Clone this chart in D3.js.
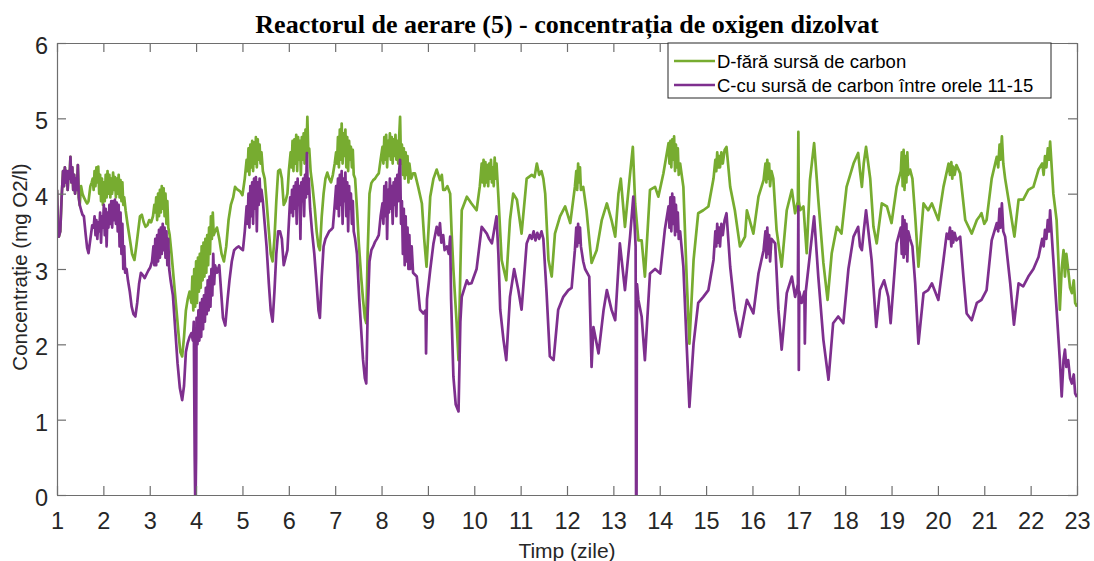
<!DOCTYPE html>
<html>
<head>
<meta charset="utf-8">
<script src="https://cdn.jsdelivr.net/npm/d3@7"></script>
<style>
  body { margin: 0; background: #fff; }
  svg { display: block; }
</style>
</head>
<body>
<svg id="chart" width="1094" height="561"></svg>
<script>
// Dissolved-oxygen readings, [day, mg O2/l]
const titleText = "Reactorul de aerare (5) - concentrația de oxigen dizolvat";
const xLabel = "Timp (zile)";
const yLabel = "Concentrație (mg O2/l)";
const legendLabels = ["D-fără sursă de carbon", "C-cu sursă de carbon între orele 11-15"];
const xTickValues = [1,2,3,4,5,6,7,8,9,10,11,12,13,14,15,16,17,18,19,20,21,22,23];
const yTickValues = [0,1,2,3,4,5,6];

// shared start (both reactors identical until ~1.5 days)
const startCommon = [[1.00,4.05],[1.02,3.60],[1.04,3.43],[1.07,3.50],[1.10,3.95],[1.13,4.30],[1.15,4.10],[1.17,4.35],[1.19,4.15],[1.21,4.30],[1.23,4.05],[1.25,4.30],[1.27,4.20],[1.29,4.49],[1.31,4.15],[1.33,4.35],[1.35,4.05],[1.37,4.25],[1.39,4.00],[1.41,4.20],[1.43,4.05],[1.45,4.38],[1.47,3.95],[1.49,3.85]];

// D - without carbon source
const seriesD = startCommon.concat([
[1.52,4.10],[1.55,4.00],[1.58,3.95],[1.62,3.90],[1.65,3.87],[1.68,3.90],[1.72,4.10],[1.75,4.15],
[1.77,4.20],[1.79,4.05],[1.81,4.30],[1.83,4.10],[1.85,4.35],[1.87,4.15],[1.89,4.36],[1.91,4.00],[1.93,4.25],[1.95,3.90],[1.97,4.20],[1.99,3.85],[2.01,4.15],[2.03,3.90],[2.05,4.25],[2.07,3.95],[2.09,4.30],[2.11,4.00],[2.13,4.25],[2.15,3.95],[2.17,4.20],[2.19,4.00],[2.21,4.28],[2.23,4.05],[2.25,4.22],[2.27,3.95],[2.29,4.20],[2.31,4.00],[2.33,4.25],[2.35,3.95],[2.37,4.18],[2.39,3.90],[2.41,4.15],[2.43,3.85],[2.45,3.95],
[2.48,3.78],[2.52,3.60],[2.57,3.40],[2.62,3.20],[2.67,3.12],[2.71,3.30],[2.75,3.50],[2.79,3.70],[2.83,3.72],[2.87,3.62],[2.91,3.56],[2.95,3.58],[2.99,3.65],[3.03,3.62],[3.07,3.70],[3.10,3.85],
[3.12,3.75],[3.14,3.95],[3.16,3.65],[3.18,4.00],[3.20,3.70],[3.22,4.05],[3.24,3.75],[3.26,4.10],[3.28,3.80],[3.30,4.07],[3.32,3.70],[3.34,4.00],[3.36,3.60],[3.38,3.90],[3.40,3.55],[3.43,3.45],
[3.47,3.20],[3.52,2.85],[3.57,2.50],[3.62,2.15],[3.66,1.90],[3.70,1.84],[3.74,2.10],[3.78,2.45],[3.82,2.60],[3.86,2.70],[3.90,2.55],
[3.92,2.90],[3.94,2.45],[3.96,3.00],[3.98,2.50],[4.00,3.10],[4.02,2.55],[4.04,3.15],[4.06,2.70],[4.08,3.20],[4.10,2.75],[4.12,3.30],[4.14,2.85],[4.16,3.35],[4.18,2.90],[4.20,3.40],[4.22,2.95],[4.24,3.45],[4.26,3.05],[4.28,3.55],[4.30,3.20],[4.32,3.70],[4.34,3.40],[4.36,3.75],[4.38,3.45],
[4.41,3.50],[4.45,3.55],[4.50,3.40],[4.55,3.20],[4.60,3.10],[4.65,3.30],[4.70,3.65],[4.75,3.85],[4.80,3.95],[4.84,4.09],[4.88,4.06],[4.95,4.03],[5.00,3.98],[5.05,4.20],[5.09,4.45],
[5.11,4.30],[5.13,4.60],[5.15,4.25],[5.17,4.65],[5.19,4.35],[5.21,4.70],[5.23,4.30],[5.25,4.68],[5.27,4.40],[5.29,4.75],[5.31,4.35],[5.33,4.72],[5.35,4.45],[5.37,4.65],[5.39,4.40],[5.41,4.55],[5.44,4.30],
[5.48,4.20],[5.52,3.90],[5.57,3.50],[5.61,3.20],[5.65,3.10],[5.69,3.40],[5.73,3.90],[5.77,4.30],[5.81,4.32],[5.85,4.20],[5.89,3.85],[5.93,3.90],[5.97,4.00],[6.00,4.30],[6.04,4.55],
[6.06,4.35],[6.08,4.70],[6.10,4.30],[6.12,4.72],[6.14,4.40],[6.16,4.78],[6.18,4.30],[6.20,4.75],[6.22,4.45],[6.24,4.70],[6.26,4.25],[6.28,4.75],[6.30,4.45],[6.32,4.80],[6.34,4.40],[6.36,4.85],[6.38,4.55],[6.40,5.02],[6.42,4.55],[6.44,4.60],
[6.47,4.30],[6.51,4.10],[6.56,3.80],[6.60,3.50],[6.64,3.30],[6.67,3.25],[6.71,3.70],[6.75,4.00],[6.79,4.20],[6.83,4.28],[6.87,4.20],[6.91,4.15],[6.95,4.25],[6.99,4.40],[7.02,4.55],
[7.04,4.40],[7.06,4.75],[7.08,4.35],[7.10,4.85],[7.12,4.45],[7.14,4.93],[7.16,4.40],[7.18,4.80],[7.20,4.50],[7.22,4.85],[7.24,4.35],[7.26,4.75],[7.28,4.30],[7.30,4.70],[7.32,4.45],[7.34,4.62],[7.36,4.35],[7.38,4.58],[7.40,4.25],
[7.43,4.20],[7.47,3.80],[7.51,3.34],[7.56,2.90],[7.60,2.60],[7.64,2.35],[7.67,2.28],[7.70,3.20],[7.74,4.00],[7.78,4.14],[7.82,4.18],[7.86,4.20],[7.90,4.24],[7.94,4.27],[7.98,4.45],[8.02,4.62],
[8.04,4.40],[8.06,4.75],[8.08,4.45],[8.10,4.78],[8.12,4.35],[8.14,4.70],[8.16,4.50],[8.18,4.80],[8.20,4.45],[8.22,4.75],[8.24,4.40],[8.26,4.72],[8.28,4.50],[8.30,4.78],[8.32,4.45],[8.34,4.70],[8.36,4.40],[8.38,4.75],[8.40,5.02],[8.42,4.40],[8.44,4.65],
[8.46,4.25],[8.48,4.60],[8.50,4.20],[8.52,4.55],[8.54,4.25],[8.56,4.50],[8.58,4.15],[8.60,4.40],[8.64,4.20],[8.68,4.27],[8.72,4.27],[8.79,4.09],[8.87,3.87],[8.92,3.40],[8.97,3.03],[9.02,3.60],[9.05,3.96],[9.12,4.20],[9.19,4.32],[9.26,4.18],[9.30,4.25],[9.33,4.05],[9.37,4.05],[9.42,4.10],[9.48,4.00],[9.51,3.50],[9.55,2.99],[9.62,2.28],[9.66,1.79],[9.70,3.00],[9.73,3.78],[9.84,3.96],[9.94,3.87],[10.05,3.78],[10.12,4.10],[10.16,4.40],
[10.18,4.15],[10.20,4.45],[10.22,4.10],[10.24,4.42],[10.26,4.15],[10.28,4.38],[10.30,4.10],[10.32,4.40],[10.34,4.20],[10.36,4.45],[10.38,4.15],[10.40,4.35],[10.42,4.10],[10.44,4.48],[10.46,4.20],[10.48,4.40],
[10.52,3.96],[10.59,3.12],[10.69,2.85],[10.77,3.65],[10.84,4.00],[10.92,3.92],[11.02,3.47],[11.13,4.20],[11.24,4.25],[11.30,4.22],[11.35,4.40],[11.40,4.25],[11.45,4.30],[11.49,4.20],[11.53,4.00],[11.60,3.12],[11.67,2.90],[11.74,3.47],[11.85,3.70],[11.96,3.83],[12.07,3.61],
[12.17,4.09],[12.20,4.30],[12.22,4.05],[12.24,4.40],[12.26,4.15],[12.28,4.35],[12.30,4.05],[12.35,4.09],[12.42,3.78],[12.53,3.08],[12.64,3.25],[12.75,3.65],[12.86,3.87],[12.96,3.65],[13.04,3.43],[13.11,4.00],[13.16,4.20],[13.25,3.56],[13.35,4.20],[13.42,4.62],[13.47,3.87],[13.54,3.38],[13.61,3.38],[13.68,2.90],[13.79,4.05],[13.90,4.09],[13.97,3.96],[14.08,4.27],[14.19,4.67],
[14.21,4.40],[14.23,4.70],[14.25,4.35],[14.27,4.72],[14.29,4.45],[14.31,4.76],[14.33,4.30],[14.35,4.65],[14.37,4.35],[14.39,4.60],[14.41,4.25],[14.44,4.40],
[14.51,4.09],[14.58,2.90],[14.64,2.01],[14.73,3.12],[14.83,3.74],[14.94,3.78],[15.05,3.83],[15.16,4.20],[15.20,4.45],[15.22,4.30],[15.24,4.55],[15.26,4.35],[15.28,4.50],[15.30,4.35],[15.33,4.55],[15.36,4.40],[15.40,4.58],[15.44,4.62],[15.52,4.09],[15.62,3.78],[15.73,3.30],[15.84,3.43],
[15.88,3.78],[16.02,3.47],[16.13,3.96],[16.24,4.18],[16.28,4.40],[16.30,4.15],[16.32,4.45],[16.34,4.20],[16.36,4.40],[16.38,4.10],[16.41,4.30],[16.45,4.20],[16.52,3.52],[16.63,3.03],[16.74,3.78],[16.85,4.05],[16.92,3.74],[16.98,3.90],[16.99,4.82],[17.00,3.90],[17.03,3.78],[17.10,3.83],[17.17,3.21],[17.24,4.18],[17.33,4.67],[17.42,3.92],[17.53,3.08],[17.62,2.59],[17.71,3.21],[17.82,3.56],[17.92,3.47],[18.03,4.09],[18.18,4.40],[18.28,4.54],[18.32,4.30],[18.36,4.09],[18.40,4.40],[18.45,4.62],[18.54,4.20],[18.61,3.56],[18.68,3.34],[18.79,3.87],[18.90,3.83],[19.00,3.61],[19.11,4.09],
[19.20,4.30],[19.22,4.55],[19.24,4.10],[19.26,4.58],[19.28,4.05],[19.30,4.50],[19.32,4.15],[19.34,4.55],[19.36,4.25],[19.40,4.32],[19.45,4.20],[19.51,3.70],[19.58,3.03],
[19.69,3.87],[19.79,3.78],[19.87,3.87],[20.01,3.65],[20.12,4.09],[20.23,4.40],[20.26,4.25],[20.29,4.42],[20.31,4.20],[20.33,4.36],[20.36,4.25],[20.40,4.38],[20.48,4.27],[20.59,3.65],[20.73,3.47],[20.84,3.65],[20.90,3.70],[20.94,3.74],[21.00,3.60],[21.05,3.65],[21.16,4.20],[21.27,4.49],[21.30,4.35],[21.33,4.65],[21.35,4.45],[21.38,4.76],[21.41,4.40],[21.45,4.20],[21.56,3.78],[21.65,3.43],[21.74,3.92],[21.84,3.92],[21.95,4.05],[22.06,4.09],[22.17,4.32],[22.25,4.40],[22.28,4.25],[22.31,4.50],[22.34,4.35],[22.37,4.60],[22.40,4.45],[22.42,4.69],[22.49,4.00],[22.56,3.65],[22.60,3.10],[22.63,2.46],[22.67,3.00],[22.71,3.25],[22.74,2.90],[22.77,3.20],[22.81,2.99],[22.85,2.75],[22.89,2.68],[22.93,2.85],[22.96,2.55],[23.00,2.50]
]);

// C - with carbon source between hours 11-15
const seriesC = startCommon.concat([
[1.52,3.78],[1.55,3.72],[1.58,3.70],[1.62,3.45],[1.65,3.28],[1.68,3.21],[1.72,3.40],[1.76,3.58],[1.79,3.55],
[1.81,3.70],[1.83,3.45],[1.85,3.65],[1.87,3.40],[1.89,3.62],[1.91,3.50],[1.93,3.75],[1.95,3.35],[1.97,3.70],[1.99,3.55],[2.01,3.85],[2.03,3.45],[2.05,3.80],[2.07,3.30],[2.09,3.75],[2.11,3.55],[2.13,3.85],[2.15,3.60],[2.17,3.90],[2.19,3.55],[2.21,3.90],[2.23,3.65],[2.25,3.92],[2.27,3.60],[2.29,3.88],[2.31,3.50],[2.33,3.85],[2.35,3.30],[2.37,3.75],[2.39,3.20],[2.41,3.60],[2.43,3.00],[2.45,3.30],
[2.47,2.95],[2.50,3.00],[2.53,2.85],[2.57,2.70],[2.61,2.50],[2.65,2.40],[2.69,2.37],[2.73,2.55],[2.77,2.80],[2.81,2.95],[2.85,2.92],[2.89,2.88],[2.93,2.93],[2.97,2.98],[3.01,3.02],[3.05,3.10],[3.08,3.30],
[3.10,3.05],[3.12,3.40],[3.14,3.05],[3.16,3.45],[3.18,3.10],[3.20,3.52],[3.22,3.15],[3.24,3.55],[3.26,3.20],[3.28,3.60],[3.30,3.25],[3.32,3.55],[3.34,3.15],[3.36,3.50],[3.38,3.05],[3.40,3.40],[3.42,3.00],
[3.45,2.85],[3.50,2.65],[3.55,2.20],[3.60,1.75],[3.65,1.42],[3.70,1.26],[3.74,1.45],[3.78,1.90],[3.82,2.02],[3.86,2.10],[3.90,2.15],[3.93,2.05],[3.95,2.30],[3.97,0.50],[3.98,0.00],[3.99,0.00],[4.00,0.50],[4.01,2.35],
[4.03,2.00],[4.05,2.45],[4.07,2.05],[4.09,2.55],[4.11,2.10],[4.13,2.60],[4.15,2.20],[4.17,2.65],[4.19,2.30],[4.21,2.75],[4.23,2.40],[4.25,2.85],[4.27,2.45],[4.29,2.90],[4.31,2.50],[4.33,3.00],[4.35,2.65],[4.37,3.20],[4.39,2.80],[4.41,3.05],
[4.45,2.95],[4.50,3.05],[4.54,2.70],[4.58,2.35],[4.63,2.25],[4.68,2.60],[4.72,2.85],[4.77,3.10],[4.82,3.25],[4.87,3.28],[4.92,3.30],[4.97,3.27],[5.01,3.25],[5.05,3.50],[5.09,3.83],
[5.11,3.60],[5.13,4.00],[5.15,3.55],[5.17,4.10],[5.19,3.70],[5.21,4.15],[5.23,3.60],[5.25,4.20],[5.27,3.80],[5.29,4.22],[5.31,3.50],[5.33,4.15],[5.35,3.85],[5.37,4.20],[5.39,3.90],[5.41,4.05],[5.44,3.90],
[5.48,3.60],[5.52,3.30],[5.57,2.80],[5.61,2.45],[5.65,2.30],[5.69,2.70],[5.73,3.20],[5.77,3.50],[5.81,3.50],[5.85,3.40],[5.89,3.05],[5.93,3.15],[5.97,3.25],[6.00,3.60],[6.03,3.95],
[6.05,3.75],[6.07,4.05],[6.09,3.70],[6.11,4.10],[6.13,3.80],[6.15,4.15],[6.17,3.60],[6.19,4.20],[6.21,3.85],[6.23,4.10],[6.25,3.40],[6.27,4.15],[6.29,3.90],[6.31,4.20],[6.33,3.70],[6.35,4.25],[6.37,3.95],[6.39,4.54],[6.41,4.00],[6.43,4.20],
[6.46,3.80],[6.50,3.50],[6.55,3.20],[6.60,2.80],[6.64,2.45],[6.67,2.35],[6.71,2.90],[6.75,3.30],[6.79,3.40],[6.83,3.45],[6.87,3.50],[6.91,3.52],[6.95,3.55],[6.99,3.85],[7.02,4.10],
[7.04,3.80],[7.06,4.20],[7.08,3.70],[7.10,4.25],[7.12,3.85],[7.14,4.30],[7.16,3.60],[7.18,4.20],[7.20,3.90],[7.22,4.28],[7.24,3.70],[7.26,4.15],[7.28,3.50],[7.30,4.10],[7.32,3.80],[7.34,4.00],[7.36,3.60],[7.38,3.90],[7.40,3.50],
[7.43,3.40],[7.47,3.20],[7.52,2.60],[7.56,2.20],[7.60,1.80],[7.64,1.55],[7.67,1.48],[7.70,2.40],[7.74,3.10],[7.78,3.25],[7.82,3.30],[7.86,3.36],[7.90,3.40],[7.94,3.45],[7.98,3.70],[8.02,3.87],
[8.04,3.60],[8.06,4.10],[8.08,3.70],[8.10,4.15],[8.12,3.40],[8.14,4.05],[8.16,3.75],[8.18,4.20],[8.20,3.80],[8.22,4.10],[8.24,3.60],[8.26,4.15],[8.28,3.85],[8.30,4.20],[8.32,3.70],[8.34,4.25],[8.36,3.90],[8.38,4.30],[8.40,4.45],[8.42,3.60],[8.44,3.90],
[8.46,3.20],[8.48,3.80],[8.50,3.05],[8.52,3.70],[8.54,3.10],[8.56,3.55],[8.58,3.00],[8.60,3.45],[8.62,3.00],[8.65,3.30],[8.68,2.95],
[8.76,2.90],[8.83,2.46],[8.90,2.41],[8.95,2.45],[8.96,1.88],[8.98,2.60],[9.05,2.99],[9.12,3.34],[9.19,3.56],[9.23,3.45],[9.26,3.61],[9.29,3.35],[9.33,3.45],[9.36,3.25],[9.41,3.30],[9.45,3.20],[9.48,3.43],[9.50,2.60],[9.55,1.57],[9.60,1.20],[9.66,1.11],[9.70,2.30],[9.73,2.63],[9.84,2.85],[9.88,2.80],[9.94,2.81],[10.05,3.00],[10.16,3.56],[10.27,3.47],[10.32,3.40],[10.38,3.34],[10.48,3.70],[10.52,3.20],[10.56,2.46],[10.63,2.06],[10.69,1.79],[10.77,2.63],[10.86,3.00],[10.95,2.72],[11.02,2.46],[11.13,3.34],[11.20,3.45],[11.24,3.40],[11.28,3.50],[11.32,3.38],[11.36,3.48],[11.40,3.40],[11.45,3.50],[11.49,3.40],[11.56,2.68],[11.63,1.84],[11.71,1.79],[11.81,2.46],[11.92,2.63],[12.03,2.72],[12.10,2.75],
[12.17,3.25],[12.20,3.55],[12.22,3.30],[12.24,3.60],[12.26,3.35],[12.28,3.55],[12.30,3.30],[12.35,3.10],[12.39,3.00],[12.48,2.90],[12.53,1.70],[12.57,2.23],[12.68,1.88],[12.79,2.46],[12.86,2.72],[12.96,2.46],[13.04,2.32],[13.14,3.34],[13.25,2.72],[13.36,3.43],[13.43,3.96],[13.48,3.30],[13.49,0.00],[13.50,0.00],[13.51,2.80],[13.54,2.59],[13.61,2.37],[13.68,1.79],[13.79,2.94],[13.90,3.00],[14.01,2.94],[14.11,3.52],[14.19,3.83],
[14.21,3.55],[14.23,3.95],[14.25,3.50],[14.27,4.00],[14.29,3.60],[14.31,3.95],[14.33,3.45],[14.35,3.85],[14.37,3.50],[14.39,3.75],[14.41,3.40],[14.44,3.50],
[14.51,3.03],[14.58,2.01],[14.64,1.17],[14.73,2.01],[14.83,2.55],[14.94,2.63],[15.05,2.72],[15.16,3.12],[15.20,3.50],[15.22,3.30],[15.24,3.60],[15.26,3.35],[15.28,3.55],[15.30,3.30],[15.33,3.60],[15.36,3.45],[15.40,3.65],[15.44,3.74],[15.52,3.03],[15.62,2.46],[15.73,2.10],[15.84,2.46],
[15.88,2.59],[16.02,2.41],[16.13,2.94],[16.24,3.25],[16.28,3.50],[16.30,3.15],[16.32,3.55],[16.34,3.20],[16.36,3.45],[16.38,3.10],[16.41,3.40],[16.49,3.34],[16.56,2.46],[16.63,1.93],[16.74,2.68],[16.85,2.90],[16.92,2.63],[16.98,2.80],[16.99,3.83],[17.00,1.66],[17.01,2.70],[17.06,2.55],[17.12,2.70],[17.13,2.01],[17.15,2.70],[17.21,3.03],[17.33,3.70],[17.42,2.90],[17.53,2.06],[17.64,1.53],[17.74,2.28],[17.85,2.37],[17.96,2.28],[18.07,3.00],[18.18,3.43],[18.28,3.56],[18.32,3.30],[18.36,3.25],[18.40,3.50],[18.45,3.78],[18.57,3.12],[18.67,2.23],[18.75,2.72],[18.84,2.85],[18.93,2.63],[18.98,2.28],[19.11,3.34],
[19.20,3.55],[19.22,3.20],[19.24,3.70],[19.26,3.15],[19.28,3.65],[19.30,3.20],[19.32,3.60],[19.34,3.10],[19.36,3.50],[19.40,3.40],[19.45,3.30],[19.51,2.81],[19.58,2.01],
[19.69,2.68],[19.79,2.72],[19.87,2.81],[20.01,2.59],[20.12,3.12],[20.19,3.47],[20.23,3.40],[20.26,3.55],[20.29,3.30],[20.31,3.50],[20.33,3.35],[20.36,3.48],[20.40,3.38],[20.48,3.43],[20.55,2.90],[20.62,2.41],[20.73,2.32],[20.84,2.55],[20.94,2.59],[21.05,2.72],[21.16,3.38],[21.27,3.61],[21.30,3.50],[21.33,3.80],[21.35,3.55],[21.38,3.87],[21.41,3.50],[21.45,3.43],[21.56,2.81],[21.64,2.26],[21.74,2.81],[21.84,2.77],[21.95,2.90],[22.06,3.00],[22.17,3.16],[22.25,3.40],[22.28,3.30],[22.31,3.52],[22.34,3.40],[22.37,3.65],[22.40,3.50],[22.42,3.78],[22.49,3.12],[22.56,2.46],[22.63,1.79],[22.67,1.31],[22.71,1.80],[22.74,1.93],[22.77,1.70],[22.81,1.79],[22.85,1.55],[22.89,1.48],[22.93,1.60],[22.96,1.35],[23.00,1.30]
]);

const colorD = "#77ac30";
const colorC = "#7e2f8e";

const svg = d3.select("#chart");
const W = 1094, H = 561;
const margin = { left: 57, right: 17, top: 43, bottom: 66 };
const plotW = W - margin.left - margin.right;
const plotH = H - margin.top - margin.bottom;

const x = d3.scaleLinear().domain([1, 23]).range([margin.left, margin.left + plotW]);
const y = d3.scaleLinear().domain([0, 6]).range([margin.top + plotH, margin.top]);

const axisColor = "#6e6e6e";
const labelColor = "#262626";
const fontSans = "Arial, 'Liberation Sans', Helvetica, sans-serif";

svg.append("defs").append("clipPath").attr("id", "plotClip")
  .append("rect")
  .attr("x", margin.left).attr("y", margin.top)
  .attr("width", plotW).attr("height", plotH);

// data lines
const line = d3.line().x(d => x(d[0])).y(d => y(d[1]));
const lines = svg.append("g").attr("clip-path", "url(#plotClip)");
lines.append("path").datum(seriesD)
  .attr("d", line).attr("fill", "none")
  .attr("stroke", colorD).attr("stroke-width", 2.7)
  .attr("stroke-linejoin", "round");
lines.append("path").datum(seriesC)
  .attr("d", line).attr("fill", "none")
  .attr("stroke", colorC).attr("stroke-width", 2.7)
  .attr("stroke-linejoin", "round");

// axes: labelled bottom/left, inward ticks on all four sides
const tickLen = 9;
const styleAxis = g => {
  g.select(".domain").attr("stroke", axisColor).attr("stroke-width", 1.2);
  g.selectAll(".tick line").attr("stroke", axisColor).attr("stroke-width", 1.2);
  g.selectAll(".tick text").attr("fill", labelColor)
    .style("font-family", fontSans).style("font-size", "23.5px");
};

const gx = svg.append("g").attr("transform", `translate(0,${margin.top + plotH})`)
  .call(d3.axisBottom(x).tickValues(xTickValues).tickFormat(d3.format("d"))
    .tickSizeInner(-tickLen).tickSizeOuter(0).tickPadding(17));
styleAxis(gx);

const gxTop = svg.append("g").attr("transform", `translate(0,${margin.top})`)
  .call(d3.axisTop(x).tickValues(xTickValues).tickFormat("")
    .tickSizeInner(-tickLen).tickSizeOuter(0));
styleAxis(gxTop);

const gy = svg.append("g").attr("transform", `translate(${margin.left},0)`)
  .call(d3.axisLeft(y).tickValues(yTickValues).tickFormat(d3.format("d"))
    .tickSizeInner(-tickLen).tickSizeOuter(0).tickPadding(9));
styleAxis(gy);
gy.selectAll(".tick text").attr("dy", "0.45em");

const gyRight = svg.append("g").attr("transform", `translate(${margin.left + plotW},0)`)
  .call(d3.axisRight(y).tickValues(yTickValues).tickFormat("")
    .tickSizeInner(-tickLen).tickSizeOuter(0));
styleAxis(gyRight);

// title and axis labels
svg.append("text")
  .attr("x", margin.left + plotW / 2).attr("y", 33)
  .attr("text-anchor", "middle")
  .style("font-family", "'Times New Roman', 'Liberation Serif', serif")
  .style("font-weight", "bold").style("font-size", "26px")
  .attr("fill", "#000")
  .text(titleText);

svg.append("text")
  .attr("x", margin.left + plotW / 2).attr("y", 558)
  .attr("text-anchor", "middle")
  .style("font-family", fontSans).style("font-size", "21px")
  .attr("fill", labelColor)
  .text(xLabel);

svg.append("text")
  .attr("transform", `translate(27,${margin.top + plotH / 2 - 2}) rotate(-90)`)
  .attr("text-anchor", "middle")
  .style("font-family", fontSans).style("font-size", "20.5px")
  .attr("fill", labelColor)
  .text(yLabel);

// legend
const legend = svg.append("g");
const lgX = 668, lgY = 43, lgW = 383, lgH = 55;
legend.append("rect")
  .attr("x", lgX).attr("y", lgY).attr("width", lgW).attr("height", lgH)
  .attr("fill", "#fff").attr("stroke", "#262626").attr("stroke-width", 1);
[colorD, colorC].forEach((c, i) => {
  const ly = lgY + 18 + i * 24;
  legend.append("line")
    .attr("x1", lgX + 6).attr("x2", lgX + 47)
    .attr("y1", ly).attr("y2", ly)
    .attr("stroke", c).attr("stroke-width", 2.7);
  legend.append("text")
    .attr("x", lgX + 49).attr("y", ly + 6.5)
    .style("font-family", fontSans).style("font-size", "18.5px")
    .attr("fill", "#000")
    .text(legendLabels[i]);
});
</script>
</body>
</html>
